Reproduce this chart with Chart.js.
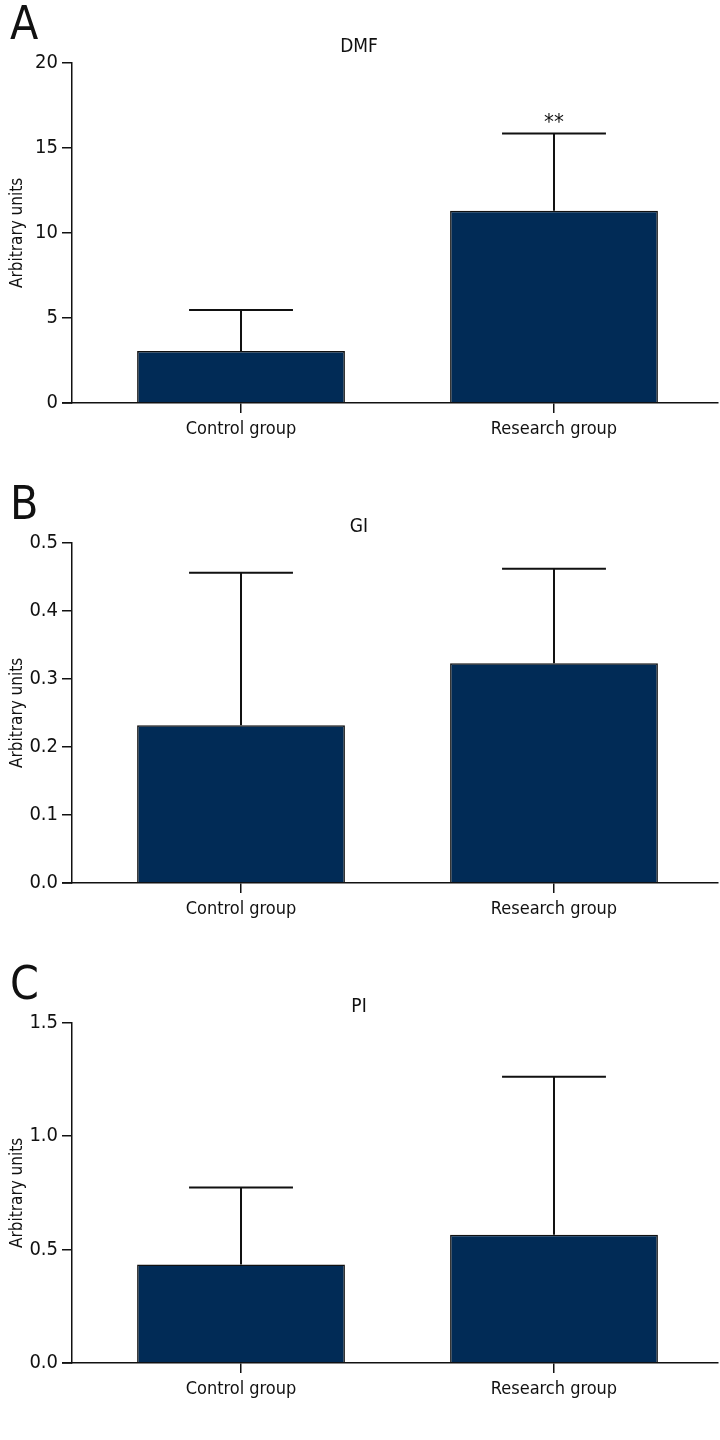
<!DOCTYPE html>
<html>
<head>
<meta charset="utf-8">
<script src="https://cdn.jsdelivr.net/npm/chart.js@4.4.1/dist/chart.umd.min.js"></script>
<style>
  html, body { margin: 0; padding: 0; background: #fff; }
  .panel { position: relative; width: 720px; height: 480px; }
</style>
</head>
<body>
<div class="panel"><canvas id="chartA"></canvas></div>
<div class="panel"><canvas id="chartB"></canvas></div>
<div class="panel"><canvas id="chartC"></canvas></div>
<script>
const categories = ['Control group', 'Research group'];

// panel A - DMF
const dmfMeans = [3.05, 11.3];
const dmfUpper = [5.47, 15.85];
const dmfStars = ['', '**'];
const dmfTicks = { max: 20, step: 5, decimals: 0 };

// panel B - GI
const giMeans = [0.232, 0.323];
const giUpper = [0.456, 0.462];
const giStars = ['', ''];
const giTicks = { max: 0.5, step: 0.1, decimals: 1 };

// panel C - PI
const piMeans = [0.434, 0.566];
const piUpper = [0.774, 1.262];
const piStars = ['', ''];
const piTicks = { max: 1.5, step: 0.5, decimals: 1 };

const FONT = "'Liberation Sans Narrow', 'DejaVu Sans Condensed', sans-serif";
const INK = '#111';
Chart.defaults.font.family = FONT;
Chart.defaults.color = INK;

function makePanel(id, letter, title, means, upper, stars, tickCfg) {
  // error bars, stars, panel letter
  const extras = {
    id: 'extras' + id,
    afterDatasetsDraw(chart) {
      const ctx = chart.ctx;
      const y = chart.scales.y;
      const meta = chart.getDatasetMeta(0);
      ctx.save();
      ctx.strokeStyle = INK;
      ctx.lineWidth = 2;
      meta.data.forEach((bar, i) => {
        const top = y.getPixelForValue(upper[i]);
        const half = bar.width / 4;
        ctx.beginPath();
        ctx.moveTo(bar.x, bar.y);
        ctx.lineTo(bar.x, top);
        ctx.moveTo(bar.x - half, top);
        ctx.lineTo(bar.x + half, top);
        ctx.stroke();
        if (stars[i]) {
          ctx.fillStyle = INK;
          ctx.font = '22px ' + FONT;
          ctx.textAlign = 'center';
          ctx.textBaseline = 'bottom';
          ctx.fillText(stars[i], bar.x, top + 1);
        }
      });
      ctx.restore();
    },
    afterDraw(chart) {
      const ctx = chart.ctx;
      const area = chart.chartArea;
      ctx.save();
      ctx.strokeStyle = INK;
      ctx.lineWidth = 1.5;
      ctx.beginPath();
      ctx.moveTo(area.left - 10, area.bottom);
      ctx.lineTo(area.left, area.bottom);
      ctx.stroke();
      ctx.fillStyle = INK;
      ctx.font = '46px ' + FONT;
      ctx.textAlign = 'left';
      ctx.textBaseline = 'alphabetic';
      ctx.fillText(letter, 10, 39);
      ctx.restore();
    }
  };

  return new Chart(document.getElementById(id), {
    type: 'bar',
    data: {
      datasets: [{
        data: means.map((v, i) => ({ x: i, y: v })),
        backgroundColor: '#012b56',
        borderColor: INK,
        borderWidth: 1.5,
        barPercentage: 0.664,
        categoryPercentage: 1
      }]
    },
    options: {
      responsive: true,
      maintainAspectRatio: false,
      animation: false,
      layout: { padding: { left: 0, right: 2, top: 0, bottom: 0 }, autoPadding: false },
      plugins: {
        legend: { display: false },
        tooltip: { enabled: false },
        title: {
          display: true,
          text: title,
          color: INK,
          font: { size: 19, weight: 'normal' },
          padding: { top: 36, bottom: 4 }
        }
      },
      scales: {
        x: {
          type: 'linear',
          offset: false,
          min: -0.54,
          max: 1.524,
          ticks: {
            stepSize: 1,
            includeBounds: false,
            color: INK,
            font: { size: 18 },
            padding: 6,
            callback: v => categories[v]
          },
          grid: { offset: false, drawOnChartArea: false, drawTicks: true, tickLength: 10, color: INK, lineWidth: 1.5 },
          border: { display: true, color: INK, width: 1.5 },
          afterFit: s => { s.height = 77; }
        },
        y: {
          min: 0,
          max: tickCfg.max,
          ticks: {
            stepSize: tickCfg.step,
            color: INK,
            font: { size: 20 },
            padding: 4,
            callback: v => Number(v).toFixed(tickCfg.decimals)
          },
          grid: { drawOnChartArea: false, drawTicks: true, tickLength: 10, color: INK, lineWidth: 1.5 },
          border: { display: true, color: INK, width: 1.5 },
          title: { display: true, text: 'Arbitrary units', color: INK, font: { size: 17 }, padding: { top: 7, bottom: 0 } },
          afterFit: s => { s.width = 72; }
        }
      }
    },
    plugins: [extras]
  });
}

makePanel('chartA', 'A', 'DMF', dmfMeans, dmfUpper, dmfStars, dmfTicks);
makePanel('chartB', 'B', 'GI', giMeans, giUpper, giStars, giTicks);
makePanel('chartC', 'C', 'PI', piMeans, piUpper, piStars, piTicks);
</script>
</body>
</html>
